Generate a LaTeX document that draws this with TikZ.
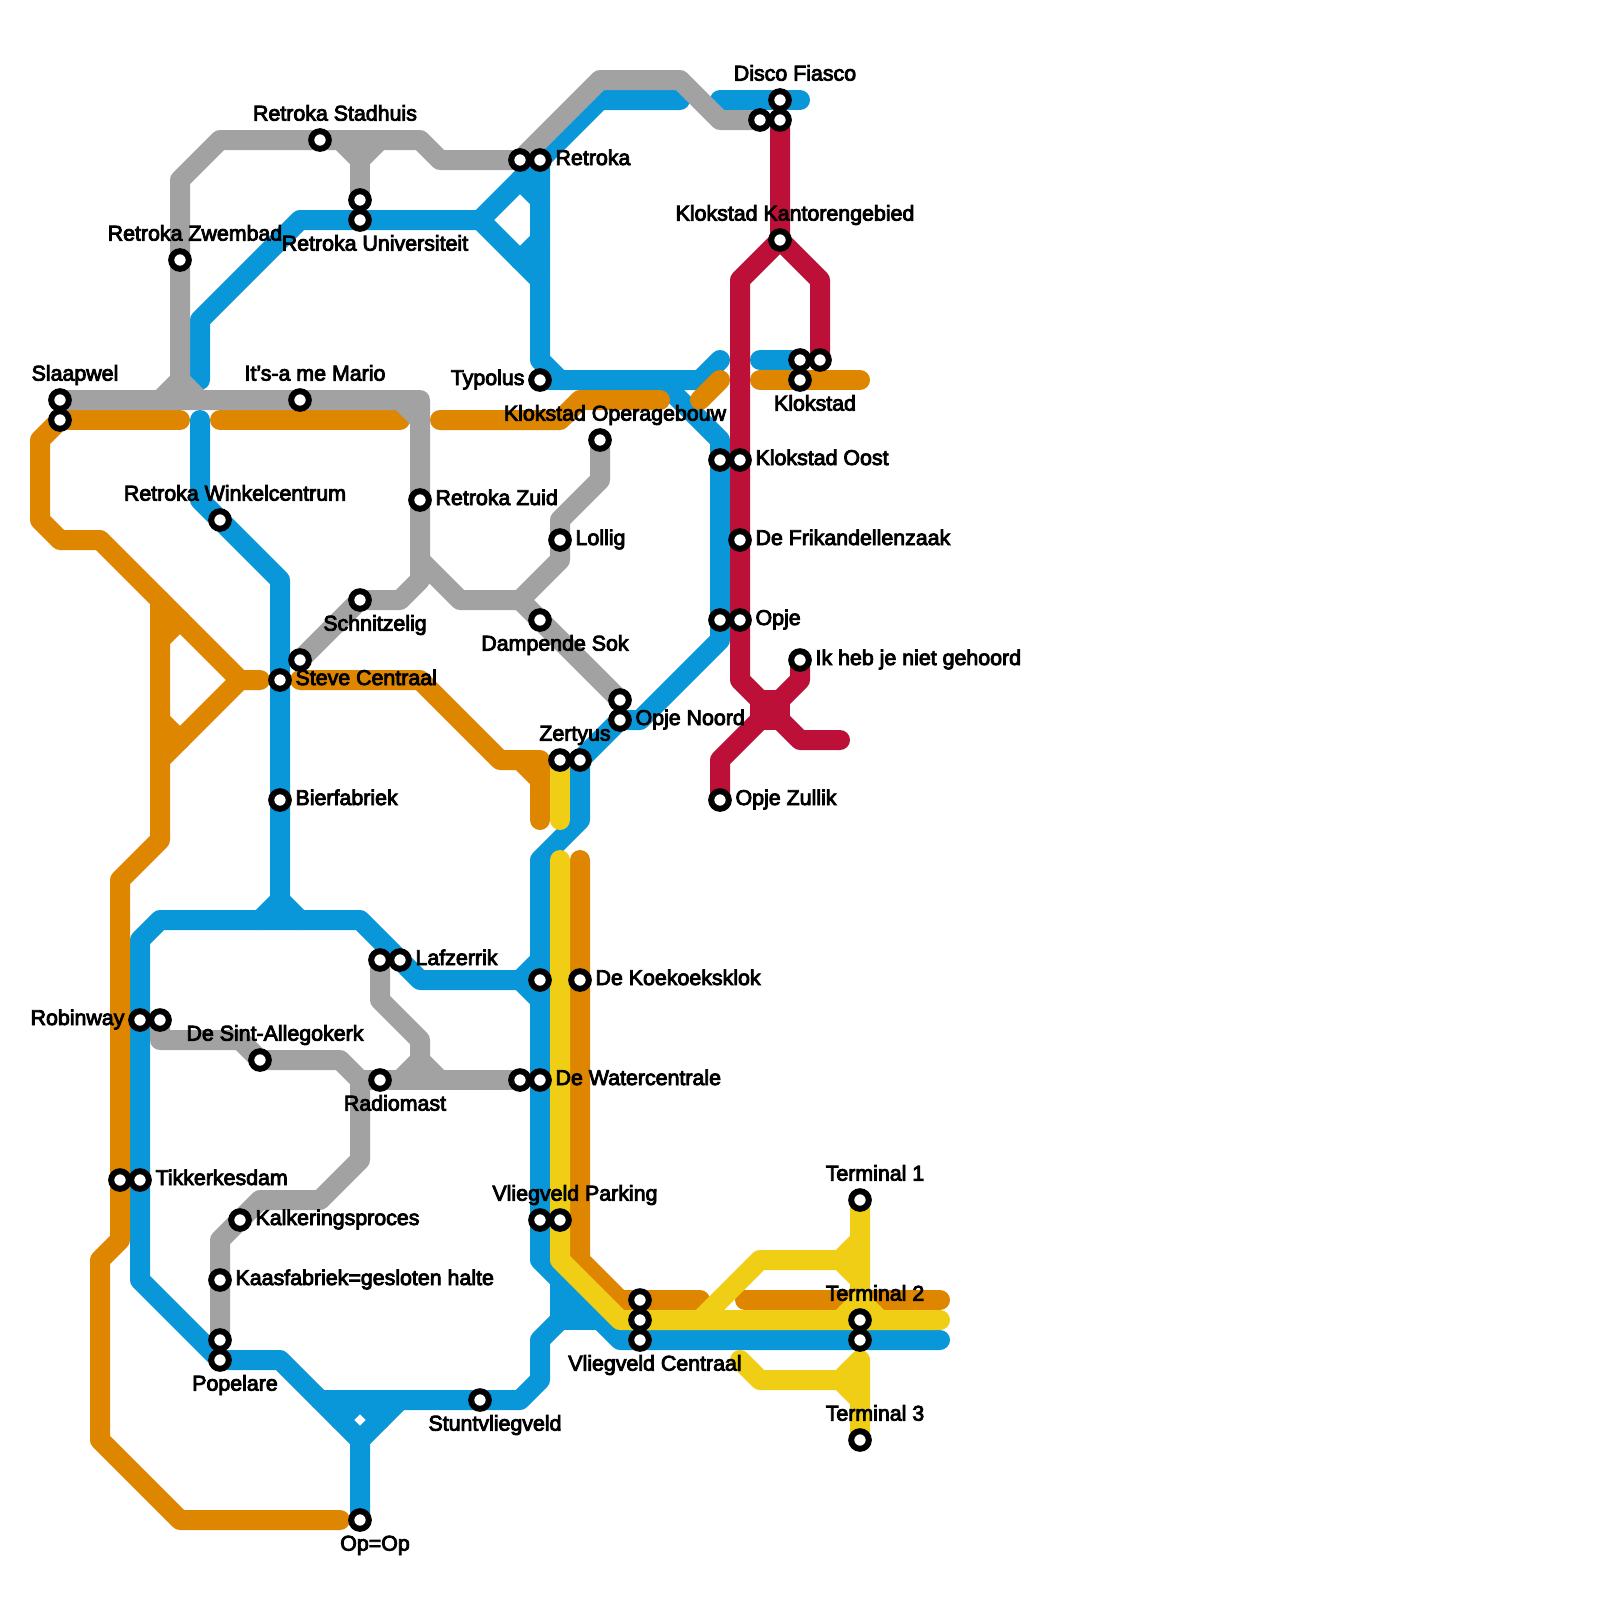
\documentclass[tikz,border=0pt]{standalone}
\usepackage{fontspec}
\newfontfamily\mapfont[FakeBold=4]{Liberation Sans}
\usetikzlibrary{backgrounds}
\definecolor{lineblue}{HTML}{0A97D9}
\definecolor{linegray}{HTML}{A2A2A2}
\definecolor{lineorange}{HTML}{DF8600}
\definecolor{lineyellow}{HTML}{F0CE15}
\definecolor{linered}{HTML}{BD1038}
\tikzset{
	stn/.style={circle,draw=black,fill=white,line width=0.075cm,inner sep=0pt,minimum size=0.22cm},
	blueline/.style={line width=0.25cm,color=lineblue},
	grayline/.style={line width=0.25cm,color=linegray},
	orangeline/.style={line width=0.25cm,color=lineorange},
	yellowline/.style={line width=0.25cm,color=lineyellow},
	redline/.style={line width=0.25cm,color=linered},
	lblr/.style={anchor=base west,inner sep=0pt,font=\mapfont\fontsize{7.6}{9}\selectfont},
	lbll/.style={anchor=base east,inner sep=0pt,font=\mapfont\fontsize{7.6}{9}\selectfont},
	lblc/.style={anchor=base,inner sep=0pt,font=\mapfont\fontsize{7.6}{9}\selectfont}
}
\begin{document}
\begin{tikzpicture}[x=0.25cm,y=-0.25cm]
	\useasboundingbox (0,0) rectangle (80,80);
	% stations
	\node[stn] (slaapa) at (3,20) {};
	\node[stn] (slaapb) at (3,21) {};
	\node[stn] (zwembad) at (9,13) {};
	\node[stn] (stadhuis) at (16,7) {};
	\node[stn] (univa) at (18,10) {};
	\node[stn] (univb) at (18,11) {};
	\node[stn] (retrokaa) at (26,8) {};
	\node[stn] (retrokab) at (27,8) {};
	\node[stn] (typolus) at (27,19) {};
	\node[stn] (mario) at (15,20) {};
	\node[stn] (winkel) at (11,26) {};
	\node[stn] (zuid) at (21,25) {};
	\node[stn] (lollig) at (28,27) {};
	\node[stn] (opera) at (30,22) {};
	\node[stn] (oosta) at (36,23) {};
	\node[stn] (oostb) at (37,23) {};
	\node[stn] (frik) at (37,27) {};
	\node[stn] (opjea) at (36,31) {};
	\node[stn] (opjeb) at (37,31) {};
	\node[stn] (ikheb) at (40,33) {};
	\node[stn] (noorda) at (31,35) {};
	\node[stn] (noordb) at (31,36) {};
	\node[stn] (zertyusa) at (28,38) {};
	\node[stn] (zertyusb) at (29,38) {};
	\node[stn] (zullik) at (36,40) {};
	\node[stn] (dampend) at (27,31) {};
	\node[stn] (schnitz) at (18,30) {};
	\node[stn] (stevea) at (15,33) {};
	\node[stn] (steveb) at (14,34) {};
	\node[stn] (bier) at (14,40) {};
	\node[stn] (lafa) at (19,48) {};
	\node[stn] (lafb) at (20,48) {};
	\node[stn] (koeka) at (27,49) {};
	\node[stn] (koekb) at (29,49) {};
	\node[stn] (watera) at (26,54) {};
	\node[stn] (waterb) at (27,54) {};
	\node[stn] (radio) at (19,54) {};
	\node[stn] (robina) at (7,51) {};
	\node[stn] (robinb) at (8,51) {};
	\node[stn] (sint) at (13,53) {};
	\node[stn] (tikka) at (6,59) {};
	\node[stn] (tikkb) at (7,59) {};
	\node[stn] (kalk) at (12,61) {};
	\node[stn] (kaas) at (11,64) {};
	\node[stn] (popa) at (11,67) {};
	\node[stn] (popb) at (11,68) {};
	\node[stn] (stunt) at (24,70) {};
	\node[stn] (opop) at (18,76) {};
	\node[stn] (parka) at (27,61) {};
	\node[stn] (parkb) at (28,61) {};
	\node[stn] (centa) at (32,65) {};
	\node[stn] (centb) at (32,66) {};
	\node[stn] (centc) at (32,67) {};
	\node[stn] (terma) at (43,60) {};
	\node[stn] (termb) at (43,66) {};
	\node[stn] (termc) at (43,67) {};
	\node[stn] (termd) at (43,72) {};
	\node[stn] (kloka) at (40,18) {};
	\node[stn] (klokb) at (41,18) {};
	\node[stn] (klokc) at (40,19) {};
	\node[stn] (discoa) at (39,5) {};
	\node[stn] (discob) at (39,6) {};
	\node[stn] (discoc) at (38,6) {};
	\node[stn] (kantoor) at (39,12) {};
	% labels
	\node[lblc] (ldisco) at (39.75,4.03) {Disco Fiasco};
	\node[lblc] (lkantoor) at (39.75,11.03) {Klokstad Kantorengebied};
	\node[lblc] (lstadhuis) at (16.75,6.03) {Retroka Stadhuis};
	\node[lblc] (lzwembad) at (9.75,12.03) {Retroka Zwembad};
	\node[lblc] (luniv) at (18.75,12.53) {Retroka Universiteit};
	\node[lblr] (lretroka) at (27.75,8.25) {Retroka};
	\node[lblc] (lslaap) at (3.75,19.03) {Slaapwel};
	\node[lblc] (lmario) at (15.75,19.03) {It’s-a me Mario};
	\node[lbll] (ltypolus) at (26.25,19.25) {Typolus};
	\node[lblc] (lopera) at (30.75,21.03) {Klokstad Operagebouw};
	\node[lblc] (lklok) at (40.75,20.53) {Klokstad};
	\node[lblr] (loost) at (37.75,23.25) {Klokstad Oost};
	\node[lblc] (lwinkel) at (11.75,25.03) {Retroka Winkelcentrum};
	\node[lblr] (lzuid) at (21.75,25.25) {Retroka Zuid};
	\node[lblr] (llollig) at (28.75,27.25) {Lollig};
	\node[lblr] (lfrik) at (37.75,27.25) {De Frikandellenzaak};
	\node[lblc] (lschnitz) at (18.75,31.53) {Schnitzelig};
	\node[lblc] (ldampend) at (27.75,32.53) {Dampende Sok};
	\node[lblr] (lopje) at (37.75,31.25) {Opje};
	\node[lblr] (likheb) at (40.75,33.25) {Ik heb je niet gehoord};
	\node[lblr] (lsteve) at (14.75,34.25) {Steve Centraal};
	\node[lblr] (lnoord) at (31.75,36.25) {Opje Noord};
	\node[lblc] (lzertyus) at (28.75,37.03) {Zertyus};
	\node[lblr] (lzullik) at (36.75,40.25) {Opje Zullik};
	\node[lblr] (lbier) at (14.75,40.25) {Bierfabriek};
	\node[lblr] (llaf) at (20.75,48.25) {Lafzerrik};
	\node[lblr] (lkoek) at (29.75,49.25) {De Koekoeksklok};
	\node[lbll] (lrobin) at (6.25,51.25) {Robinway};
	\node[lblc] (lsint) at (13.75,52.03) {De Sint-Allegokerk};
	\node[lblr] (lwater) at (27.75,54.25) {De Watercentrale};
	\node[lblc] (lradio) at (19.75,55.53) {Radiomast};
	\node[lblr] (ltikk) at (7.75,59.25) {Tikkerkesdam};
	\node[lblr] (lkalk) at (12.75,61.25) {Kalkeringsproces};
	\node[lblr] (lkaas) at (11.75,64.25) {Kaasfabriek=gesloten halte};
	\node[lblc] (lpop) at (11.75,69.53) {Popelare};
	\node[lblc] (lstunt) at (24.75,71.53) {Stuntvliegveld};
	\node[lblc] (lopop) at (18.75,77.53) {Op=Op};
	\node[lblc] (lpark) at (28.75,60.03) {Vliegveld Parking};
	\node[lblc] (lcent) at (32.75,68.53) {Vliegveld Centraal};
	\node[lblc] (lterma) at (43.75,59.03) {Terminal 1};
	\node[lblc] (ltermb) at (43.75,65.03) {Terminal 2};
	\node[lblc] (ltermc) at (43.75,71.03) {Terminal 3};
	\begin{scope}[on background layer={line cap=round,line join=round}]
		% blue
		\draw [blueline] (10,19)-- (10,16)-- (15,11)-- (24,11)-- (retrokab.center)-- (30,5)-- (34,5);
		\draw [blueline] (24,11)-- (27,14);
		\draw [blueline] (26,9)-- (27,10);
		\draw [blueline] (27,12)-- (26,13);
		\draw [blueline] (retrokab.center)-- (27,18)-- (28,19)-- (35,19)-- (36,18);
		\draw [blueline] (typolus.center)-- (28,19);
		\draw [blueline] (33,19)-- (36,22)-- (36,32)-- (32,36)-- (noordb.center);
		\draw [blueline] (noordb.center)-- (zertyusb.center)-- (29,41)-- (27,43)-- (27,63)-- (31,67)-- (47,67);
		\draw [blueline] (26,49)-- (27,48);
		\draw [blueline] (26,49)-- (27,50);
		\draw [blueline] (28,64)-- (28,66)-- (30,66);
		\draw [blueline] (28,65)-- (29,66);
		\draw [blueline] (28,66)-- (27,67)-- (27,69)-- (26,70)-- (16,70)-- (14,68)-- (popb.center)-- (7,64)-- (7,47)-- (8,46)-- (18,46)-- (21,49)-- (26,49);
		\draw [blueline] (10,21)-- (10,25)-- (14,29)-- (14,45);
		\draw [blueline] (13,46)-- (14,45)-- (15,46);
		\draw [blueline] (16,70)-- (18,72)-- (opop.center);
		\draw [blueline] (18,72)-- (20,70);
		\draw [blueline] (18,70)-- (17,71);
		\draw [blueline] (18,70)-- (19,71);
		\draw [blueline] (36,5)-- (40,5);
		\draw [blueline] (38,18)-- (kloka.center);
		% orange
		\draw [orangeline] (slaapb.center)-- (2,22)-- (2,26)-- (3,27)-- (5,27)-- (12,34)-- (13,34);
		\draw [orangeline] (12,34)-- (8,38);
		\draw [orangeline] (8,30)-- (8,42)-- (6,44)-- (6,62)-- (5,63)-- (5,72)-- (9,76)-- (17,76);
		\draw [orangeline] (8,32)-- (9,31);
		\draw [orangeline] (8,36)-- (9,37);
		\draw [orangeline] (slaapb.center)-- (9,21);
		\draw [orangeline] (11,21)-- (20,21);
		\draw [orangeline] (22,21)-- (28,21)-- (29,20)-- (33,20);
		\draw [orangeline] (35,20)-- (36,19);
		\draw [orangeline] (38,19)-- (43,19);
		\draw [orangeline] (15,34)-- (21,34)-- (25,38)-- (27,38)-- (27,41);
		\draw [orangeline] (26,38)-- (27,39);
		\draw [orangeline] (29,43)-- (29,63)-- (31,65)-- (35,65);
		\draw [orangeline] (37.25,65)-- (47,65);
		% gray
		\draw [grayline] (slaapa.center)-- (21,20)-- (21,29)-- (20,30)-- (schnitz.center)-- (stevea.center);
		\draw [grayline] (20,20)-- (21,21);
		\draw [grayline] (21,28)-- (23,30)-- (26,30)-- (28,28)-- (28,26)-- (30,24)-- (opera.center);
		\draw [grayline] (26,30)-- (noorda.center);
		\draw [grayline] (8,20)-- (9,19)-- (9,9)-- (11,7)-- (21,7)-- (22,8)-- (retrokaa.center)-- (30,4)-- (34,4)-- (36,6)-- (discoc.center);
		\draw [grayline] (9,19)-- (10,20);
		\draw [grayline] (17,7)-- (18,8)-- (19,7);
		\draw [grayline] (18,8)-- (univa.center);
		\draw [grayline] (lafa.center)-- (19,50)-- (21,52)-- (21,53)-- (22,54);
		\draw [grayline] (21,53)-- (20,54);
		\draw [grayline] (18,54)-- (watera.center);
		\draw [grayline] (robinb.center)-- (8,52)-- (12,52)-- (sint.center)-- (17,53)-- (18,54)-- (18,58)-- (16,60)-- (13,60)-- (11,62)-- (popa.center);
		% yellow
		\draw [yellowline] (zertyusa.center)-- (28,41);
		\draw [yellowline] (28,43)-- (28,63)-- (31,66)-- (47,66);
		\draw [yellowline] (35,66)-- (38,63)-- (42,63)-- (43,62);
		\draw [yellowline] (42,63)-- (43,64);
		\draw [yellowline] (terma.center)-- (43,65)-- (44,66);
		\draw [yellowline] (43,65)-- (42,66);
		\draw [yellowline] (37,68)-- (38,69)-- (42,69)-- (43,68)-- (termd.center);
		\draw [yellowline] (42,69)-- (43,70);
		% red
		\draw [redline] (discob.center)-- (kantoor.center)-- (37,14)-- (37,34)-- (40,37)-- (42,37);
		\draw [redline] (kantoor.center)-- (41,14)-- (klokb.center);
		\draw [redline] (ikheb.center)-- (40,34)-- (36,38)-- (zullik.center);
		\fill [color=linered] (37.5,34.5) rectangle (39.5,36.5);
	\end{scope}
\end{tikzpicture}
\end{document}
